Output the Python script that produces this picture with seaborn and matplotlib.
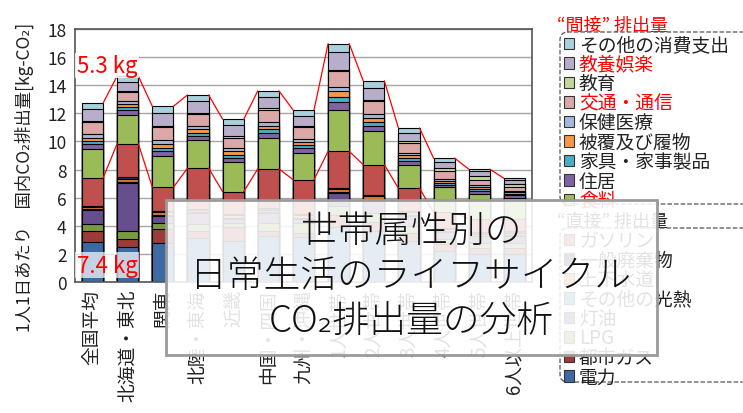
import numpy as np
import matplotlib
matplotlib.use("Agg")
import matplotlib.pyplot as plt
import matplotlib.transforms as mtransforms
import seaborn as sns
from matplotlib.patches import Patch, Rectangle, FancyBboxPatch

# --------------------------------------------------------------
# Data (kg-CO2 per person per day), stacked bottom -> top
# --------------------------------------------------------------
categories = ["全国平均", "北海道・東北", "関東", "北陸・東海", "近畿", "中国・四国", "九州・沖縄",
              "1人世帯", "2人世帯", "3人世帯", "4人世帯", "5人世帯", "6人以上世帯"]

# direct emissions
denryoku = [2.85, 2.5, 2.8, 3.1, 2.9, 3.3, 3.2, 3.9, 3.6, 2.9, 2.2, 2.0, 2.0]
toshigas = [0.79, 0.55, 0.95, 0.5, 1.0, 0.3, 0.3, 0.9, 0.7, 0.6, 0.5, 0.45, 0.4]
lpg = [0.48, 0.6, 0.48, 0.5, 0.3, 0.6, 0.7, 0.6, 0.6, 0.5, 0.35, 0.35, 0.4]
touyu = [1.0, 3.42, 0.5, 0.8, 0.3, 0.7, 0.3, 0.95, 0.9, 0.7, 0.5, 0.45, 0.5]
sonota_kounetsu = [0.05, 0.05, 0.05, 0.05, 0.05, 0.05, 0.05, 0.05, 0.05, 0.05, 0.05, 0.05, 0.05]
jougesuidou = [0.15, 0.22, 0.17, 0.15, 0.2, 0.2, 0.2, 0.2, 0.25, 0.2, 0.15, 0.15, 0.15]
haikibutsu = [0.1, 0.1, 0.1, 0.1, 0.1, 0.1, 0.1, 0.1, 0.1, 0.1, 0.1, 0.1, 0.1]
gasoline = [1.98, 2.41, 1.69, 2.9, 1.58, 2.8, 2.44, 2.6, 2.14, 1.62, 1.1, 0.95, 0.9]

# indirect emissions
shokuryou = [2.05, 2.0, 2.25, 1.98, 2.08, 2.17, 1.86, 2.94, 2.37, 1.67, 1.79, 1.75, 1.51]
juukyo = [0.34, 0.36, 0.33, 0.29, 0.31, 0.38, 0.36, 0.6, 0.36, 0.24, 0.16, 0.2, 0.15]
kagu = [0.22, 0.24, 0.2, 0.26, 0.24, 0.29, 0.24, 0.33, 0.33, 0.24, 0.14, 0.17, 0.12]
hifuku = [0.24, 0.19, 0.31, 0.26, 0.24, 0.24, 0.21, 0.4, 0.29, 0.21, 0.15, 0.12, 0.1]
hoken = [0.28, 0.24, 0.28, 0.22, 0.24, 0.22, 0.22, 0.28, 0.28, 0.17, 0.15, 0.15, 0.12]
koutsuu = [0.85, 0.62, 0.92, 0.85, 0.72, 0.92, 0.82, 1.15, 0.9, 0.68, 0.55, 0.38, 0.28]
kyouiku = [0.1, 0.08, 0.1, 0.08, 0.1, 0.1, 0.08, 0.08, 0.08, 0.15, 0.22, 0.26, 0.2]
kyouyou = [0.85, 0.68, 0.92, 0.82, 0.82, 0.78, 0.72, 1.3, 0.86, 0.6, 0.45, 0.35, 0.28]
sonota_shouhi = [0.4, 0.4, 0.45, 0.45, 0.4, 0.45, 0.45, 0.58, 0.5, 0.33, 0.25, 0.15, 0.12]

direct_names = ["電力", "都市ガス", "LPG", "灯油", "その他の光熱", "上下水道", "一般廃棄物", "ガソリン"]
direct_values = [denryoku, toshigas, lpg, touyu, sonota_kounetsu, jougesuidou, haikibutsu, gasoline]
direct_colors = ["#3D6AA5", "#9C3B38", "#7A9A3E", "#674E8C", "#2F8DA5", "#DB7A2E", "#1F3350", "#C0504D"]

indirect_names = ["食料", "住居", "家具・家事製品", "被覆及び履物", "保健医療", "交通・通信",
                  "教育", "教養娯楽", "その他の消費支出"]
indirect_values = [shokuryou, juukyo, kagu, hifuku, hoken, koutsuu, kyouiku, kyouyou, sonota_shouhi]
indirect_colors = ["#9BBB59", "#8064A2", "#4BACC6", "#F79646", "#A6B9DB", "#DBA8A7",
                   "#C3D69B", "#B8AECB", "#A8D1DD"]
red_labels = ["教養娯楽", "交通・通信", "食料"]

# --------------------------------------------------------------
# Plot
# --------------------------------------------------------------
sns.set_style("white")
plt.rcParams["font.family"] = ["Noto Sans CJK JP", "DejaVu Sans"]

W, H = 743, 414
fig = plt.figure(figsize=(W / 100, H / 100), dpi=100)
ax = fig.add_axes([75 / W, 1 - 283 / H, (532 - 75) / W, (283 - 30) / H])

all_values = np.array(direct_values + indirect_values)
all_colors = direct_colors + indirect_colors
cum = np.cumsum(all_values, axis=0)

# stacked bars: draw cumulative totals from the top down
for k in reversed(range(len(all_values))):
    sns.barplot(x=categories, y=cum[k], color=all_colors[k], saturation=1, width=0.6,
                edgecolor="black", linewidth=0.8, errorbar=None, ax=ax)

# series lines for direct top and total top
direct_top = cum[len(direct_values) - 1]
total_top = cum[-1]
for i in range(len(categories) - 1):
    for tops in (direct_top, total_top):
        ax.plot([i + 0.3, i + 0.7], [tops[i], tops[i + 1]], color="red", lw=0.9, zorder=3)

ax.set_xlim(-0.5, len(categories) - 0.5)
ax.set_ylim(0, 18)
ax.set_yticks(range(0, 19, 2))
ax.yaxis.grid(True, color="#a6a6a6", lw=1)
ax.set_axisbelow(True)
ax.set_xlabel("")
ax.set_ylabel("")
ax.tick_params(axis="y", length=0, labelsize=12.5, pad=6, colors="#222222")
ax.tick_params(axis="x", length=0, labelsize=13.5, pad=5, colors="#222222")
ax.set_xticks(range(len(categories)))
ax.set_xticklabels(categories, rotation=90, ha="center", va="top")
ax.set_xticks(np.arange(0.5, len(categories) - 0.5, 1), minor=True)
ax.tick_params(axis="x", which="minor", direction="in", length=3, color="#555555")
for s in ax.spines.values():
    s.set_color("#555555")
    s.set_linewidth(1.2)

ax.text(-0.45, 15.4, "5.3 kg", color="red", fontsize=16, ha="left", va="center",
        bbox=dict(facecolor="white", edgecolor="none", alpha=0.85, pad=1))
ax.text(-0.45, 1.2, "7.4 kg", color="red", fontsize=16, ha="left", va="center",
        bbox=dict(facecolor="white", edgecolor="none", alpha=0.7, pad=1))

fig.text(24 / W, 1 - 332 / H, "1人1日あたり　国内CO₂排出量[kg-CO₂]", rotation=90,
         ha="center", va="bottom", fontsize=12.5, color="#222222")

# legends with dashed rounded frames (extend past the right edge)
px = mtransforms.IdentityTransform()


def add_legend(names, colors, top_px, bottom_px, title, title_color):
    fig.add_artist(FancyBboxPatch((560, H - bottom_px), 220, bottom_px - top_px,
                                  boxstyle="round,pad=0,rounding_size=8", transform=px,
                                  fill=False, edgecolor="#555555", lw=0.9, linestyle="--",
                                  zorder=4))
    handles = [Patch(facecolor=c, edgecolor="#333333", lw=0.8) for c in colors]
    leg = fig.legend(handles[::-1], names[::-1], loc="upper left",
                     bbox_to_anchor=(564 / W, 1 - (top_px + 2) / H), borderaxespad=0,
                     fontsize=13.5, handlelength=0.55, handleheight=0.55, handletextpad=0.25,
                     labelspacing=-0.08, borderpad=0, frameon=False)
    for t in leg.get_texts():
        t.set_color("red" if t.get_text() in red_labels else "#222222")
    fig.text(557 / W, 1 - (top_px - 7) / H, title, color=title_color, fontsize=13,
             ha="left", va="center")
    return leg


add_legend(indirect_names, indirect_colors, 33, 205, "“間接” 排出量", "red")
add_legend(direct_names, direct_colors, 229, 383, "“直接” 排出量", "#222222")

# title overlay
fig.add_artist(Rectangle((166 / W, 1 - 356 / H), (657 - 166) / W, (356 - 201) / H,
                         transform=fig.transFigure, facecolor=(1, 1, 1, 0.88),
                         edgecolor="#9a9a9a", lw=2, zorder=10))
for text, y in [("世帯属性別の", 232), ("日常生活のライフサイクル", 277), ("CO₂排出量の分析", 322)]:
    fig.text(411 / W, 1 - y / H, text, fontsize=26.5, color="#111111", fontweight="light",
             ha="center", va="center", zorder=11)

plt.savefig("out.png", dpi=100)
